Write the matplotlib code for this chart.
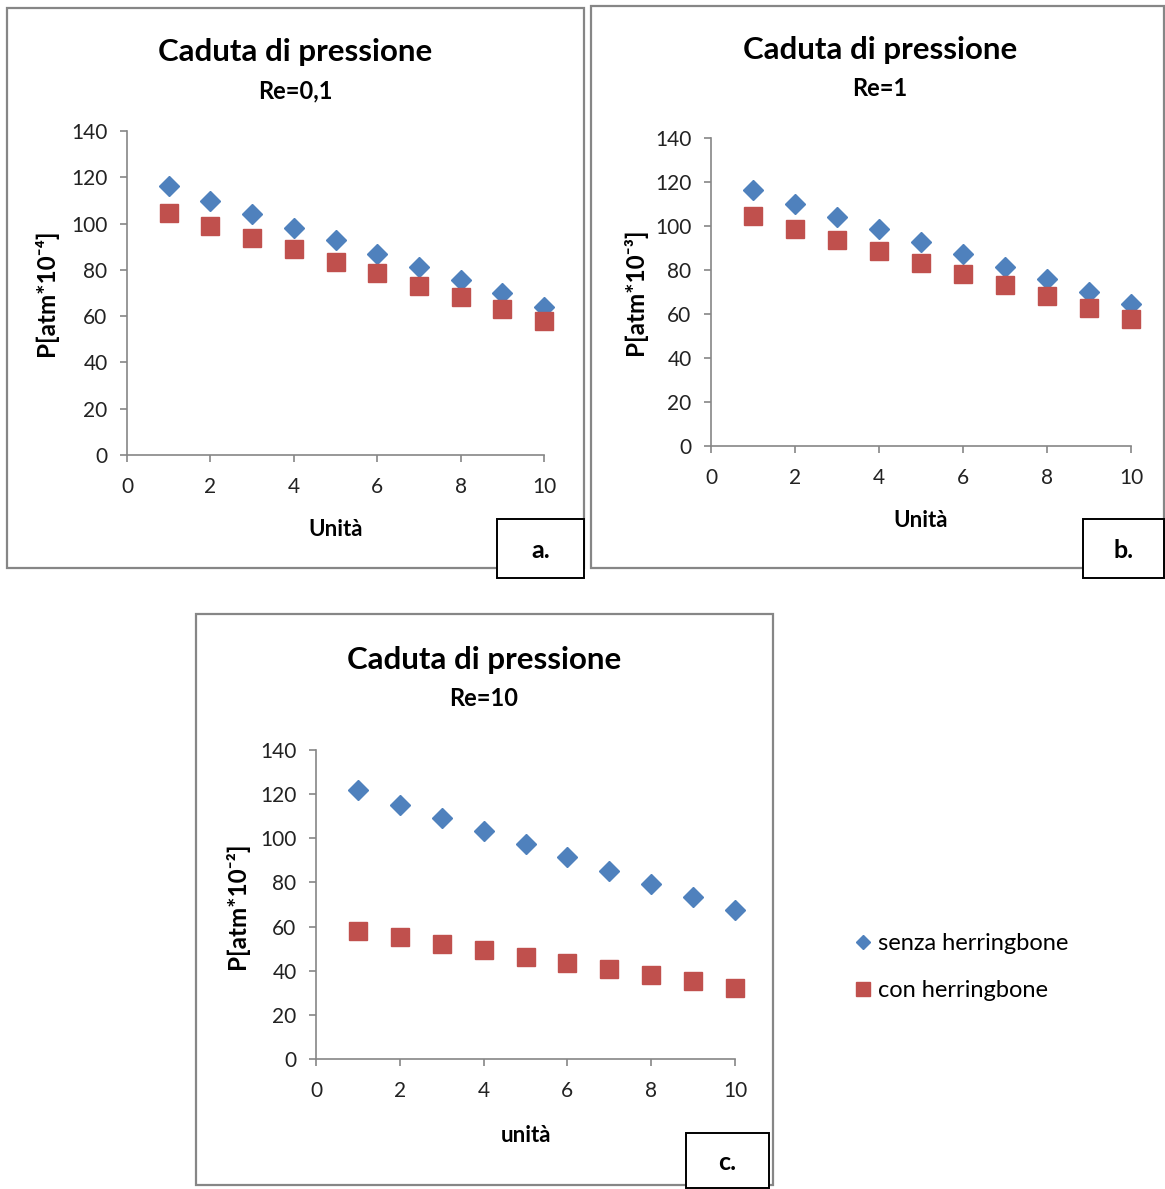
import numpy as np
import matplotlib
matplotlib.use("Agg")
import matplotlib.pyplot as plt
from matplotlib.patches import Rectangle

plt.rcParams['font.family'] = ['Lato', 'DejaVu Sans']

# data
unita = [1, 2, 3, 4, 5, 6, 7, 8, 9, 10]
senza_a = [116.3, 109.8, 104.3, 98.3, 92.9, 87.0, 81.2, 75.6, 70.0, 64.1]
con_a = [104.7, 99.1, 93.8, 88.9, 83.4, 78.5, 73.0, 68.1, 63.2, 57.8]
senza_b = [116.4, 110.0, 104.2, 98.5, 92.9, 87.3, 81.5, 75.8, 70.0, 64.5]
con_b = [104.5, 98.8, 93.6, 88.6, 83.3, 78.2, 73.2, 68.0, 62.9, 57.7]
senza_c = [121.9, 115.1, 109.1, 103.3, 97.4, 91.7, 85.2, 79.3, 73.4, 67.5]
con_c = [57.9, 55.1, 52.1, 49.3, 46.2, 43.4, 40.9, 38.1, 35.2, 32.2]

titolo = "Caduta di pressione"
sottotitoli = ["Re=0,1", "Re=1", "Re=10"]
ylabels = ["P[atm*10\u207b\u2074]", "P[atm*10\u207b\u00b3]",
           "P[atm*10\u207b\u00b2]"]
xlabels = ["Unità", "Unità", "unità"]
lettere = ["a.", "b.", "c."]
serie_labels = ["senza herringbone", "con herringbone"]

BLUE = "#4F81BD"
RED = "#C0504D"
GRAY = "#868686"

W, H = 1165, 1189
fig = plt.figure(figsize=(W / 100, H / 100), dpi=100)


def frac_rect(x0, y0, x1, y1):
    '''pixel box (top-left origin) -> figure fraction [l, b, w, h]'''
    return [x0 / W, 1 - y1 / H, (x1 - x0) / W, (y1 - y0) / H]


def box(x0, y0, x1, y1, ec, lw, fc='none', z=0):
    l, b, w, h = frac_rect(x0, y0, x1, y1)
    fig.patches.append(Rectangle((l, b), w, h, transform=fig.transFigure,
                                 fill=(fc != 'none'), facecolor=fc,
                                 edgecolor=ec, linewidth=lw, zorder=z))


# panel frames
box(7, 8, 584, 568, GRAY, 1.6)
box(591, 6, 1164, 568, GRAY, 1.6)
box(196, 614, 773, 1185, GRAY, 1.6)

panels = [
    dict(ax=(127, 131, 544, 455), t=(295, 52, 91), s=(senza_a, con_a),
         yl=(-0.166, 0.5), xl=(0.5, -0.198), lab=(497, 519, 584, 578)),
    dict(ax=(711, 138, 1131, 446), t=(880, 50, 88), s=(senza_b, con_b),
         yl=(-0.153, 0.5), xl=(0.5, -0.208), lab=(1083, 519, 1164, 578)),
    dict(ax=(316, 750, 735, 1059), t=(484, 660, 699), s=(senza_c, con_c),
         yl=(-0.160, 0.495), xl=(0.5, -0.214), lab=(686, 1133, 769, 1188)),
]

handles = None
for i, p in enumerate(panels):
    ax = fig.add_axes(frac_rect(*p['ax']))
    senza, con = p['s']
    h1, = ax.plot(unita, senza, 'D', color=BLUE, ms=10, mec=BLUE,
                  linestyle='none', clip_on=False, label=serie_labels[0])
    h2, = ax.plot(unita, con, 's', color=RED, ms=13.5, mec=RED,
                  linestyle='none', clip_on=False, label=serie_labels[1])
    handles = [h1, h2]
    ax.set_xlim(0, 10)
    ax.set_ylim(0, 140)
    ax.set_xticks(range(0, 11, 2))
    ax.set_yticks(range(0, 141, 20))
    for side in ('top', 'right'):
        ax.spines[side].set_visible(False)
    for side in ('left', 'bottom'):
        ax.spines[side].set_color(GRAY)
        ax.spines[side].set_linewidth(1.2)
    ax.tick_params(axis='both', colors=GRAY, labelcolor='#222222',
                   labelsize=15, length=5, width=1.2, direction='out')
    ax.tick_params(axis='y', pad=9)
    ax.tick_params(axis='x', pad=11)
    ax.set_ylabel(ylabels[i], fontsize=17.5, fontweight='bold')
    ax.yaxis.set_label_coords(*p['yl'])
    ax.set_xlabel(xlabels[i], fontsize=16, fontweight='bold')
    ax.xaxis.set_label_coords(*p['xl'])

    cx, ty, sy = p['t']
    fig.text(cx / W, 1 - ty / H, titolo, ha='center', va='center',
             fontsize=22.5, fontweight='bold')
    fig.text(cx / W, 1 - sy / H, sottotitoli[i], ha='center', va='center',
             fontsize=17, fontweight='bold')

    x0, y0, x1, y1 = p['lab']
    box(x0, y0, x1, y1, 'black', 1.4, fc='white', z=5)
    fig.text((x0 + x1) / 2 / W, 1 - (y0 + y1) / 2 / H - 0.002, lettere[i],
             ha='center', va='center', fontsize=18, fontweight='bold',
             zorder=6)

leg = fig.legend(handles=handles, loc='upper left',
                 bbox_to_anchor=(845 / W, 1 - 924 / H), frameon=False,
                 fontsize=17, handlelength=0.7, handletextpad=0.3,
                 labelspacing=1.1, borderaxespad=0, markerscale=0.75)

fig.savefig("out.png", dpi=100)
